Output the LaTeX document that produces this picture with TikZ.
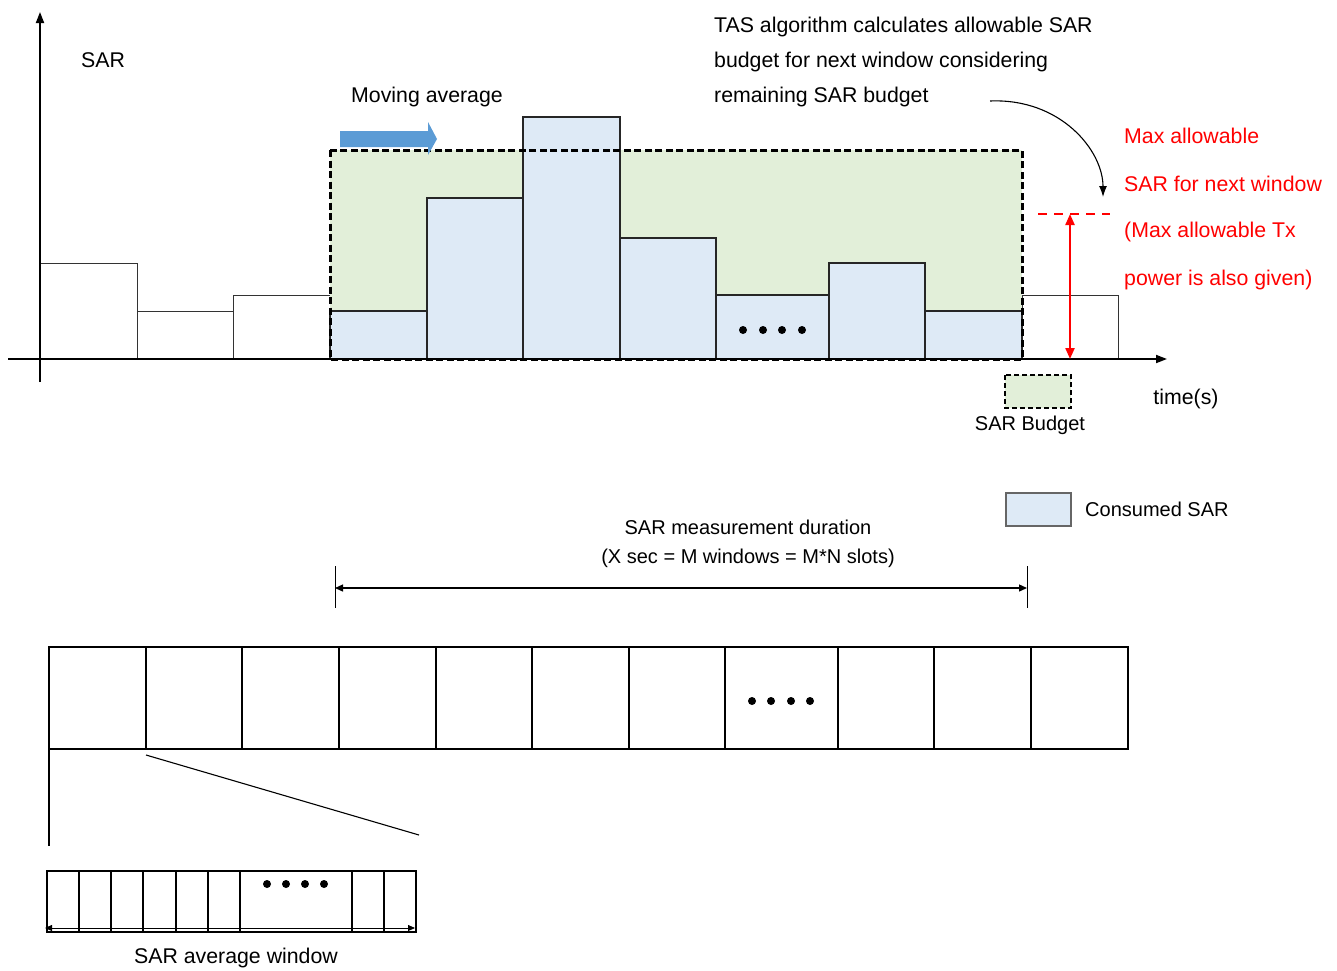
\documentclass[tikz,border=0pt]{standalone}
\usepackage{fontspec}
\setmainfont{Liberation Sans}
\usetikzlibrary{arrows.meta}
\definecolor{budgetgreen}{HTML}{E2EFD9}
\definecolor{consblue}{HTML}{DEEAF6}
\definecolor{arrowblue}{HTML}{5B9BD5}
\definecolor{tasred}{HTML}{FF0000}
\begin{document}
\begin{tikzpicture}[x=1pt,y=-1pt,
  lbl/.style={inner sep=0pt,font=\fontsize{21.3}{25}\selectfont},
  smlbl/.style={inner sep=0pt,font=\fontsize{20}{24}\selectfont},
  redlbl/.style={lbl,text=tasred,anchor=west},
  whitebar/.style={draw=black!80,line width=1pt,fill=white},
  bluebar/.style={draw=black!85,line width=1.1pt,fill=consblue},
  budgetbox/.style={draw=black,line width=3pt,dash pattern=on 7pt off 3.5pt},
  slot/.style={draw=black,line width=2.2pt},
  dotmark/.style={fill=black,draw=none},
  axis/.style={line width=1.8pt,-{Triangle[length=11pt,width=8pt]}}
]
\useasboundingbox (0,0) rectangle (1337,970);

% bars before window
\draw[whitebar] (40,359) rectangle (137,263);
\draw[whitebar] (137,359) rectangle (233,311);
\draw[whitebar] (233,359) rectangle (330,295);
\draw[whitebar] (1022,359) rectangle (1118,295);

% budget window
\fill[budgetgreen] (330,150) rectangle (1022,359);
\draw[bluebar] (330,359) rectangle (427,311);
\draw[bluebar] (427,359) rectangle (523,198);
\draw[bluebar] (523,359) rectangle (620,117);
\draw[bluebar] (620,359) rectangle (716,238);
\draw[bluebar] (716,359) rectangle (829,295);
\draw[bluebar] (829,359) rectangle (925,263);
\draw[bluebar] (925,359) rectangle (1022,311);
\draw[budgetbox] (330,150) rectangle (1022,359);
\foreach \x in {743,763,782,802} \fill[dotmark] (\x,330) circle (4pt);

% axes
\coordinate (ybot) at (40,382);
\coordinate (ytop) at (40,12);
\coordinate (xl) at (8,359);
\coordinate (xr) at (1167,359);
\draw[axis] (ybot) -- (ytop);
\draw[axis] (xl) -- (xr);

% labels
\node[lbl] (sar) at (103,60) {SAR};
\node[lbl] (mov) at (427,97) {Moving average};
\node[lbl,anchor=west] (tas1) at (714,27) {TAS algorithm calculates allowable SAR};
\node[lbl,anchor=west] (tas2) at (714,62) {budget for next window considering};
\node[lbl,anchor=west] (tas3) at (714,97) {remaining SAR budget};
\node[redlbl] (r1) at (1124,136) {Max allowable};
\node[redlbl] (r2) at (1124,184) {SAR for next window};
\node[redlbl] (r3) at (1124,232) {(Max allowable Tx};
\node[redlbl] (r4) at (1124,280) {power is also given)};
\node[lbl] (time) at (1186,399) {time(s)};

% moving average arrow
\fill[arrowblue] (340,131) -- (428,131) -- (428,122) -- (437,139) -- (428,155) -- (428,147) -- (340,147) -- cycle;

% curved arrow
\coordinate (cs) at (990,101);
\coordinate (ce) at (1103,197);
\draw[line width=1.1pt,-{Latex[length=11pt,width=8pt]}] (cs) .. controls (1060,98) and (1103,150) .. (ce);

% red markers
\coordinate (rdl) at (1038,214);
\coordinate (rdr) at (1110,214);
\draw[tasred,line width=2.2pt,dash pattern=on 9pt off 7pt] (rdl) -- (rdr);
\coordinate (rat) at (1070,214);
\coordinate (rab) at (1070,359);
\draw[tasred,line width=2.2pt,{Triangle[length=11pt,width=9pt]}-{Triangle[length=11pt,width=9pt]}] (rat) -- (rab);

% legends
\draw[draw=black,line width=2.2pt,dash pattern=on 5pt off 3pt,fill=budgetgreen] (1005,375) rectangle (1071,408);
\node[smlbl] (budget) at (1030,425) {SAR Budget};
\draw[draw=black!60,line width=1.2pt,fill=consblue] (1006,493) rectangle (1071,526);
\node[smlbl,anchor=west] (cons) at (1085,509) {Consumed SAR};

% measurement duration
\node[smlbl] (md1) at (748,527) {SAR measurement duration};
\node[smlbl] (md2) at (748,558) {(X sec = M windows = M*N slots)};
\coordinate (mtl) at (335,566);
\coordinate (mbl) at (335,608);
\coordinate (mtr) at (1027,566);
\coordinate (mbr) at (1027,608);
\draw[line width=0.9pt] (mtl) -- (mbl);
\draw[line width=0.9pt] (mtr) -- (mbr);
\coordinate (mal) at (335,588);
\coordinate (mar) at (1027,588);
\draw[line width=1.3pt,{Triangle[length=8pt,width=7pt]}-{Triangle[length=8pt,width=7pt]}] (mal) -- (mar);

% big window row
\draw[slot] (49,647) rectangle (1128,749);
\foreach \x in {146,242,339,436,532,629,725,838,934,1031} \draw[slot] (\x,647) -- (\x,749);
\foreach \x in {752,771,791,810} \fill[dotmark] (\x,701) circle (4pt);

% zoom lines
\coordinate (zl1) at (49,749);
\coordinate (zl2) at (49,846);
\coordinate (zd1) at (146,755);
\coordinate (zd2) at (419,835);
\draw[line width=2.2pt] (zl1) -- (zl2);
\draw[line width=1.1pt] (zd1) -- (zd2);

% small window row
\draw[slot] (47,871) rectangle (416,932);
\foreach \x in {79,111,143,176,208,240,352,384} \draw[slot] (\x,871) -- (\x,932);
\foreach \x in {267,286,305,324} \fill[dotmark] (\x,884) circle (4pt);
\coordinate (sal) at (45,928);
\coordinate (sar2) at (415,928);
\draw[line width=0.9pt,{Triangle[length=7pt,width=6pt]}-{Triangle[length=7pt,width=6pt]}] (sal) -- (sar2);
\node[lbl] (avg) at (236,958) {SAR average window};
\end{tikzpicture}
\end{document}
